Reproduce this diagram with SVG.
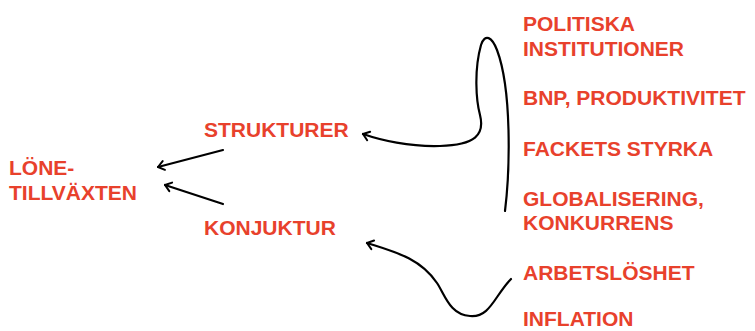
<svg xmlns="http://www.w3.org/2000/svg" width="755" height="331" viewBox="0 0 755 331">
<defs>
<style>
.t{font-family:"Liberation Sans",Arial,sans-serif;font-weight:bold;font-size:21px;fill:#E8412C}
.c{fill:none;stroke:#000;stroke-width:2.2;stroke-linecap:round}
</style>
<marker id="ah" markerWidth="12" markerHeight="12" refX="8" refY="6" orient="auto" markerUnits="userSpaceOnUse">
<path d="M2,1.5 L8,6 L2,10.5" fill="none" stroke="#000" stroke-width="2" stroke-linecap="round" stroke-linejoin="round"/>
</marker>
</defs>
<rect width="755" height="331" fill="#fff"/>
<g id="lonetillvaxten"><text class="t" x="9" y="175">LÖNE-</text><text class="t" x="9" y="200">TILLVÄXTEN</text></g>
<g id="strukturer"><text class="t" x="204" y="137">STRUKTURER</text></g>
<g id="konjuktur"><text class="t" x="204" y="235">KONJUKTUR</text></g>
<g id="politiska"><text class="t" x="523" y="31">POLITISKA</text><text class="t" x="523" y="56">INSTITUTIONER</text></g>
<g id="bnp"><text class="t" x="523" y="105">BNP, PRODUKTIVITET</text></g>
<g id="facket"><text class="t" x="523" y="156">FACKETS STYRKA</text></g>
<g id="globalisering"><text class="t" x="523" y="206">GLOBALISERING,</text><text class="t" x="523" y="230">KONKURRENS</text></g>
<g id="arbetsloshet"><text class="t" x="523" y="280">ARBETSLÖSHET</text></g>
<g id="inflation"><text class="t" x="523" y="326">INFLATION</text></g>
<g id="connectors">
<path class="c" d="M223,150 L158,167" marker-end="url(#ah)"/>
<path class="c" d="M223,204 L165,185" marker-end="url(#ah)"/>
<path class="c" d="M505,211 C510,170 512,90 497,50 C492,37 485,33 481,45 C474,70 476,100 480,115 C485,135 475,145 440,146 C410,147 380,140 363,134" marker-end="url(#ah)"/>
<path class="c" d="M511,279 C495,295 490,318 470,316 C450,315 445,295 437,283 C420,258 395,252 367,243" marker-end="url(#ah)"/>
</g>
</svg>
